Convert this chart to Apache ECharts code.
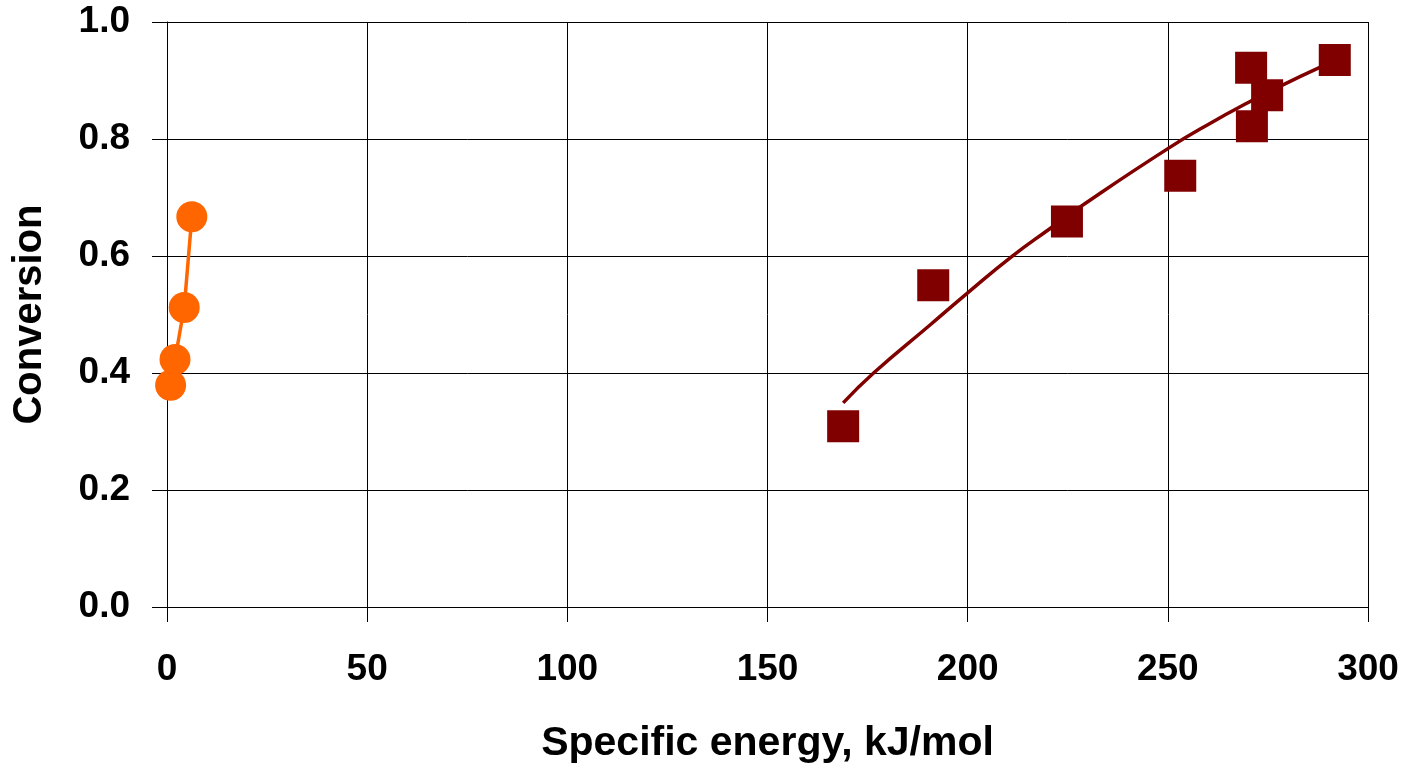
<!DOCTYPE html>
<html>
<head>
<meta charset="utf-8">
<script src="https://cdn.jsdelivr.net/npm/echarts@6/dist/echarts.min.js"></script>
<style>
html,body{margin:0;padding:0;background:#fff;}
#c{width:1412px;height:769px;}
</style>
</head>
<body>
<div id="c"></div>
<script>
// Orange series (circles, connected)
const orangeX = [0.9, 2.0, 4.3, 6.2];
const orangeY = [0.379, 0.423, 0.512, 0.667];
// Dark red series (squares)
const redX = [168.9, 191.4, 224.8, 253.1, 270.8, 271.0, 274.8, 291.7];
const redY = [0.309, 0.550, 0.659, 0.737, 0.922, 0.822, 0.875, 0.935];
// Trend curve
const trendX = [168.9, 176.5, 190.6, 200.0, 211.0, 220.6, 228.1, 250.1, 261.4, 269.7, 278.0, 288.5];
const trendY = [0.349, 0.400, 0.482, 0.537, 0.599, 0.647, 0.684, 0.784, 0.830, 0.861, 0.890, 0.924];
// Axis ticks
const xTicks = [0, 50, 100, 150, 200, 250, 300];
const yTicks = [0.0, 0.2, 0.4, 0.6, 0.8, 1.0];

const zip = (a, b) => a.map((v, i) => [v, b[i]]);
const FONT = '"Liberation Sans", Arial, sans-serif';

const chart = echarts.init(document.getElementById('c'), null, {renderer: 'canvas'});
chart.setOption({
  animation: false,
  backgroundColor: '#ffffff',
  grid: {left: 167, right: 44, top: 22, bottom: 162, containLabel: false, outerBoundsMode: 'none'},
  xAxis: {
    type: 'value',
    min: xTicks[0], max: xTicks[xTicks.length - 1], interval: 50,
    name: 'Specific energy, kJ/mol',
    nameLocation: 'middle', nameGap: 116,
    nameTextStyle: {fontFamily: FONT, fontWeight: 'bold', fontSize: 41, color: '#000'},
    axisLine: {show: true, onZero: false, lineStyle: {color: '#000', width: 1}},
    axisTick: {show: true, length: 15, inside: false, lineStyle: {color: '#000', width: 1}},
    axisLabel: {margin: 44, fontFamily: FONT, fontWeight: 'bold', fontSize: 37, color: '#000'},
    splitLine: {show: true, lineStyle: {color: '#000', width: 1}}
  },
  yAxis: {
    type: 'value',
    min: yTicks[0], max: yTicks[yTicks.length - 1], interval: 0.2,
    name: 'Conversion',
    nameLocation: 'middle', nameGap: 117,
    nameTextStyle: {fontFamily: FONT, fontWeight: 'bold', fontSize: 40, color: '#000'},
    axisLine: {show: true, onZero: false, lineStyle: {color: '#000', width: 1}},
    axisTick: {show: true, length: 15, inside: false, lineStyle: {color: '#000', width: 1}},
    axisLabel: {margin: 37, fontFamily: FONT, fontWeight: 'bold', fontSize: 37, color: '#000',
      formatter: v => v.toFixed(1)},
    splitLine: {show: true, lineStyle: {color: '#000', width: 1}}
  },
  series: [
    {
      type: 'line',
      data: zip(trendX, trendY),
      smooth: 0.5,
      symbol: 'none',
      lineStyle: {color: '#800000', width: 3.5},
      z: 2
    },
    {
      type: 'scatter',
      data: zip(redX, redY),
      symbol: 'rect',
      symbolSize: 32,
      itemStyle: {color: '#800000', opacity: 1},
      z: 3
    },
    {
      type: 'line',
      data: zip(orangeX, orangeY),
      symbol: 'circle',
      symbolSize: 31,
      showSymbol: true,
      lineStyle: {color: '#FF6600', width: 3.5},
      itemStyle: {color: '#FF6600', borderWidth: 0, opacity: 1},
      z: 3
    }
  ]
});
</script>
</body>
</html>
